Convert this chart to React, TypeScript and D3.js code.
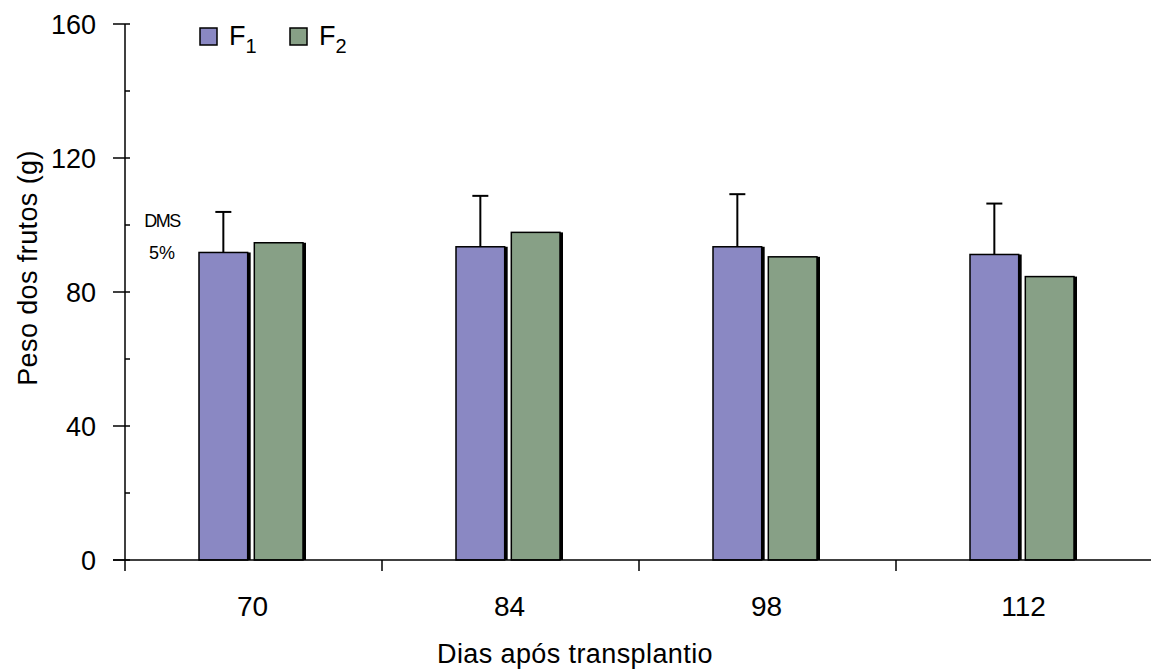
import React from "react";
import * as d3 from "d3";

// Fruit weight (g) by days after transplanting, two treatments
const days = ["70", "84", "98", "112"];
const seriesKeys = ["F1", "F2"];
const f1Values = [91.8, 93.5, 93.5, 91.2];
const f2Values = [94.7, 97.8, 90.5, 84.6];
// Least significant difference (DMS, 5%) drawn above F1 bars
const dmsValues = [12.1, 15.2, 15.7, 15.2];
const yTicks = [0, 40, 80, 120, 160];
const yMinorTicks = [20, 60, 100, 140];

const colors: Record<string, string> = { F1: "#8a88c3", F2: "#87a086" };
const font = "'Liberation Sans', Arial, sans-serif";

export default function App() {
  const width = 1151;
  const height = 670;
  const left = 125;
  const right = 1153;
  const top = 24;
  const bottom = 560;

  const y = d3.scaleLinear().domain([0, 160]).range([bottom, top]);
  const x0 = d3.scaleBand<string>().domain(days).range([left, right]);
  const x1 = d3
    .scaleBand<string>()
    .domain(seriesKeys)
    .range([74, 178])
    .paddingInner(0.12);

  const rows = days.map((d, i) => ({
    day: d,
    F1: f1Values[i],
    F2: f2Values[i],
    dms: dmsValues[i],
  }));

  const boundaries = days.map((d) => x0(d)!).concat([right]);

  return (
    <svg
      width={width}
      height={height}
      style={{ position: "absolute", left: 0, top: 0, background: "#fff" }}
      fontFamily={font}
    >
      {/* bars with a small black drop shadow */}
      {rows.map((r) =>
        seriesKeys.map((k) => {
          const v = (r as any)[k] as number;
          const bx = x0(r.day)! + x1(k)!;
          const bw = x1.bandwidth();
          return (
            <g key={r.day + k}>
              <rect x={bx + 3} y={y(v)} width={bw} height={bottom - y(v)} fill="#000" />
              <rect
                x={bx}
                y={y(v)}
                width={bw}
                height={bottom - y(v)}
                fill={colors[k]}
                stroke="#000"
                strokeWidth={1.5}
              />
            </g>
          );
        })
      )}

      {/* DMS bars */}
      {rows.map((r) => {
        const cx = x0(r.day)! + x1("F1")! + x1.bandwidth() / 2;
        const y1 = y(r.F1);
        const y2 = y(r.F1 + r.dms);
        return (
          <g key={"dms" + r.day} stroke="#000" strokeWidth={2}>
            <line x1={cx} x2={cx} y1={y1} y2={y2} />
            <line x1={cx - 8} x2={cx + 8} y1={y2} y2={y2} />
          </g>
        );
      })}

      {/* y axis */}
      <line x1={left} x2={left} y1={top} y2={bottom} stroke="#000" strokeWidth={1.5} />
      {yTicks.map((t) => (
        <g key={"yt" + t}>
          <line x1={left - 12} x2={left + 5} y1={y(t)} y2={y(t)} stroke="#000" strokeWidth={1.5} />
          <text
            x={left - 29}
            y={y(t) + 1}
            textAnchor="end"
            dominantBaseline="central"
            fontSize={27}
            fill="#000"
          >
            {t}
          </text>
        </g>
      ))}
      {yMinorTicks.map((t) => (
        <line key={"ym" + t} x1={left} x2={left + 5} y1={y(t)} y2={y(t)} stroke="#000" strokeWidth={1.5} />
      ))}

      {/* x axis */}
      <line x1={left - 12} x2={right} y1={bottom} y2={bottom} stroke="#000" strokeWidth={1.5} />
      {boundaries.map((bx, i) => (
        <line key={"xb" + i} x1={bx} x2={bx} y1={bottom} y2={bottom + 11} stroke="#000" strokeWidth={1.5} />
      ))}
      {days.map((d) => (
        <text
          key={"xl" + d}
          x={x0(d)! + x0.bandwidth() / 2 - 1}
          y={606}
          textAnchor="middle"
          dominantBaseline="central"
          fontSize={28}
          fill="#000"
        >
          {d}
        </text>
      ))}

      {/* axis titles */}
      <text x={575} y={654} textAnchor="middle" dominantBaseline="central" fontSize={27} letterSpacing={0.4} fill="#000">
        Dias após transplantio
      </text>
      <text
        transform={`translate(28, 268) rotate(-90)`}
        textAnchor="middle"
        dominantBaseline="central"
        fontSize={27}
        letterSpacing={0.4}
        fill="#000"
      >
        Peso dos frutos (g)
      </text>

      {/* DMS label */}
      <text x={162} y={221} textAnchor="middle" dominantBaseline="central" fontSize={18} letterSpacing={-1.5} fill="#000">
        DMS
      </text>
      <text x={162} y={253} textAnchor="middle" dominantBaseline="central" fontSize={18} fill="#000">
        5%
      </text>

      {/* legend */}
      {seriesKeys.map((k, i) => {
        const lx = 200 + i * 90;
        return (
          <g key={"lg" + k}>
            <rect x={lx} y={28} width={17} height={17} fill={colors[k]} stroke="#000" strokeWidth={1.5} />
            <text x={lx + 29} y={36} dominantBaseline="central" fontSize={27} fill="#000">
              F
              <tspan dy={10} fontSize={20}>
                {k.slice(1)}
              </tspan>
            </text>
          </g>
        );
      })}
    </svg>
  );
}
